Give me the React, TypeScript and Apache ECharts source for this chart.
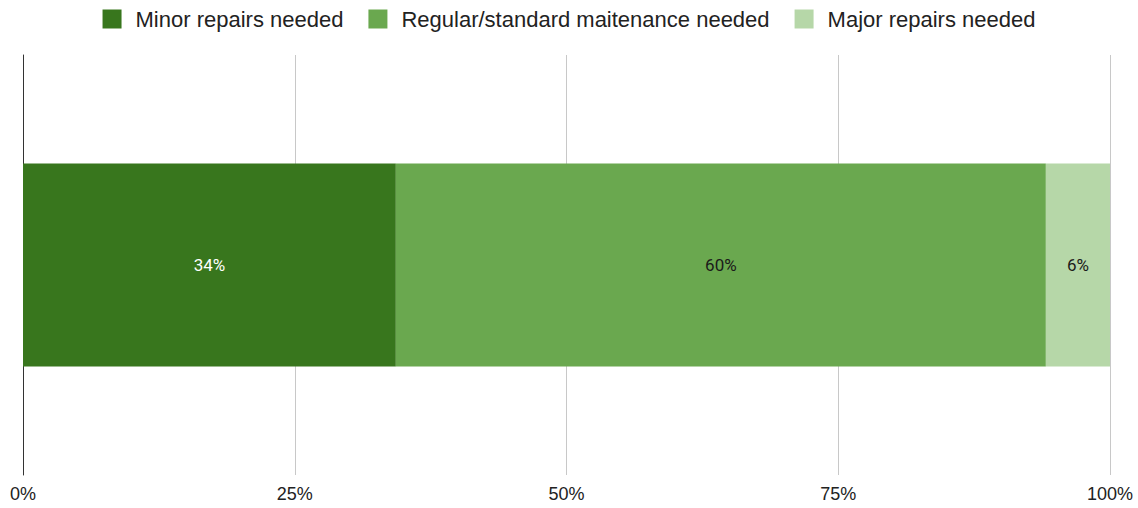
import React, { useEffect, useRef } from "react";
import * as echarts from "echarts";

const categories = ["Condition"];
const seriesNames = [
  "Minor repairs needed",
  "Regular/standard maitenance needed",
  "Major repairs needed",
];
const minorValues = [34.3];
const regularValues = [59.8];
const majorValues = [5.9];
const seriesColors = ["#38761d", "#6aa84f", "#b6d7a8"];
const labelColors = ["#ffffff", "#1a1a1a", "#1a1a1a"];
const xTicks = [0, 25, 50, 75, 100];

export default function App() {
  const ref = useRef<HTMLDivElement>(null);
  useEffect(() => {
    document.body.style.margin = "0";
    if (!ref.current) return;
    const chart = echarts.init(ref.current, undefined, { renderer: "svg" });
    const values = [minorValues, regularValues, majorValues];
    chart.setOption({
      animation: false,
      textStyle: { fontFamily: "Liberation Sans, Arial, sans-serif" },
      legend: {
        top: 3,
        left: "center",
        itemWidth: 19,
        itemHeight: 19,
        itemGap: 25,
        icon: "rect",
        textStyle: { fontSize: 22, color: "#222", padding: [0, 0, 0, 9] },
        data: seriesNames,
      },
      grid: { left: 23, right: 28, top: 55, bottom: 33, containLabel: false },
      xAxis: {
        type: "value",
        min: xTicks[0],
        max: xTicks[xTicks.length - 1],
        interval: 25,
        axisLine: { show: false },
        axisTick: { show: false },
        splitLine: { show: true, lineStyle: { color: "#c8c8c8", width: 1 } },
        axisLabel: {
          formatter: "{value}%",
          fontSize: 18,
          color: "#222",
          margin: 10,
        },
      },
      yAxis: {
        type: "category",
        data: categories,
        axisLine: { show: true, lineStyle: { color: "#333", width: 1 } },
        axisTick: { show: false },
        axisLabel: { show: false },
      },
      series: seriesNames.map((name, i) => ({
        name,
        type: "bar",
        stack: "total",
        barWidth: "48.3%",
        data: values[i],
        itemStyle: { color: seriesColors[i] },
        label: {
          show: true,
          position: "inside",
          fontFamily: "Roboto, sans-serif",
          fontSize: 17,
          color: labelColors[i],
          formatter: (p: any) => `${Math.round(p.value)}%`,
        },
      })),
    });
    return () => chart.dispose();
  }, []);
  return <div ref={ref} style={{ width: 1138, height: 508 }} />;
}
